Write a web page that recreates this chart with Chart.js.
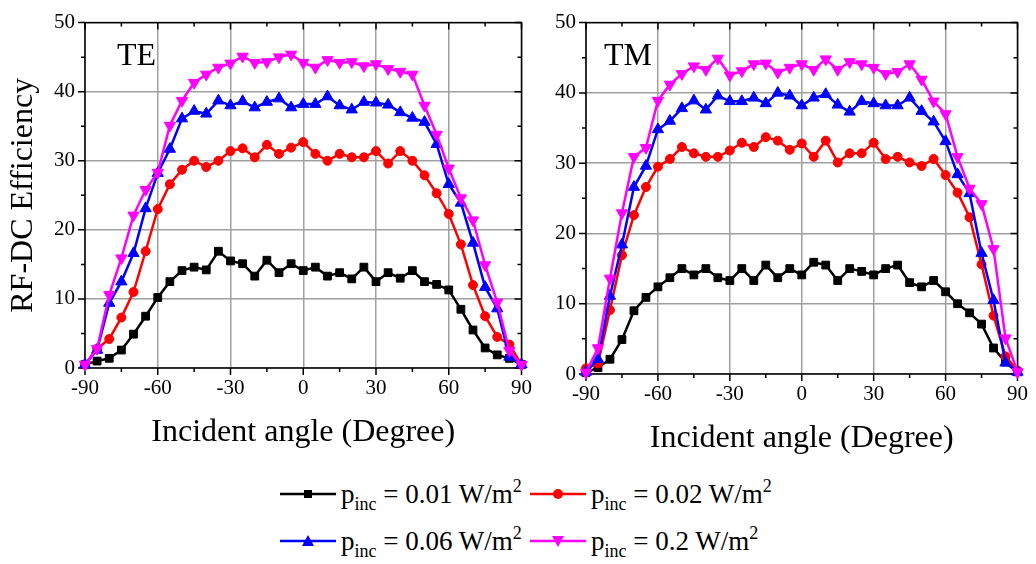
<!DOCTYPE html>
<html>
<head>
<meta charset="utf-8">
<script src="https://cdn.jsdelivr.net/npm/chart.js@4.4.1/dist/chart.umd.min.js"></script>
<style>
  body { margin: 0; background: #fff; }
  #wrap { position: relative; width: 1036px; height: 564px; overflow: hidden;
    font-family: "Liberation Serif", "Times New Roman", serif; }
  canvas { position: absolute; top: 0; }
  #te { left: 0; }
  #tm { left: 540px; }
  .item { position: absolute; height: 32px; font-size: 27px; line-height: 27px;
    white-space: nowrap; color: #000; }
  .item svg { position: absolute; left: 0; top: 3px; }
  .item .txt { position: absolute; left: 61px; top: 0; }
  .sub { font-size: 18px; position: relative; top: 7px; }
  .sup { font-size: 18px; position: relative; top: -11px; }
</style>
</head>
<body>
<div id="wrap">
  <canvas id="te" width="540" height="460"></canvas>
  <canvas id="tm" width="496" height="466"></canvas>
  <div id="legend"></div>
</div>
<script>
const angles = [-90, -85, -80, -75, -70, -65, -60, -55, -50, -45, -40, -35, -30,
  -25, -20, -15, -10, -5, 0, 5, 10, 15, 20, 25, 30, 35, 40, 45, 50, 55, 60, 65,
  70, 75, 80, 85, 90];

// TE polarisation
const te001 = [0.5, 1.0, 1.4, 2.6, 4.9, 7.5, 10.2, 12.5, 14.1, 14.6, 14.2, 16.9,
  15.5, 15.1, 13.3, 15.6, 13.8, 15.1, 14.1, 14.6, 13.3, 13.8, 12.9, 14.6, 12.5,
  13.8, 13.0, 14.1, 12.5, 12.1, 11.3, 8.5, 5.5, 2.9, 1.9, 1.4, 0.5];
const te002 = [0.5, 2.8, 4.2, 7.3, 11.0, 16.9, 23.0, 26.6, 28.7, 30.0, 29.1, 30.0,
  31.4, 31.8, 30.5, 32.3, 31.0, 31.9, 32.7, 31.0, 30.0, 31.0, 30.5, 30.5, 31.4,
  29.6, 31.4, 30.0, 27.9, 25.3, 22.3, 17.9, 12.0, 7.5, 4.5, 3.4, 0.5];
const te006 = [0.5, 2.6, 9.4, 12.5, 16.6, 23.1, 28.2, 31.7, 36.1, 37.2, 36.8, 38.7,
  38.0, 38.6, 37.7, 38.5, 39.0, 37.7, 38.2, 38.2, 39.3, 38.0, 37.4, 38.5, 38.4,
  38.1, 37.0, 36.2, 35.6, 32.4, 26.6, 23.9, 18.1, 11.7, 8.6, 1.6, 0.5];
const te02 = [0.5, 2.8, 10.6, 15.9, 22.1, 25.8, 28.3, 35.1, 38.7, 41.3, 42.5, 43.5,
  44.1, 45.1, 44.2, 44.3, 45.0, 45.4, 44.2, 43.5, 44.6, 44.2, 44.3, 43.7, 44.0,
  43.3, 42.9, 42.5, 38.0, 33.8, 28.9, 24.6, 21.4, 14.9, 9.5, 2.5, 0.5];

// TM polarisation
const tm001 = [0.2, 0.9, 2.1, 4.9, 9.0, 10.9, 12.4, 13.7, 15.0, 14.1, 15.0, 13.7,
  13.3, 15.0, 13.3, 15.5, 13.7, 15.0, 14.1, 15.9, 15.5, 13.3, 15.0, 14.6, 14.1,
  15.0, 15.5, 13.0, 12.4, 13.3, 11.7, 10.0, 8.7, 7.1, 3.7, 1.7, 0.3];
const tm002 = [0.8, 1.5, 9.1, 16.9, 22.6, 26.6, 29.5, 30.6, 32.3, 31.4, 30.9, 30.9,
  31.8, 32.9, 32.3, 33.7, 33.2, 31.9, 32.8, 30.9, 33.2, 30.1, 31.4, 31.4, 32.9,
  30.6, 30.9, 30.1, 29.6, 30.6, 28.3, 25.8, 22.3, 15.6, 8.3, 2.5, 0.5];
const tm006 = [0.3, 2.1, 11.1, 18.4, 26.6, 29.6, 34.8, 36.0, 37.8, 38.9, 37.6, 39.6,
  38.8, 38.8, 39.3, 38.5, 40.0, 39.6, 38.2, 39.3, 39.8, 38.3, 37.3, 38.8, 38.5,
  38.2, 38.2, 39.3, 37.4, 35.9, 33.1, 28.4, 25.7, 17.2, 10.5, 1.6, 0.3];
const tm02 = [0.2, 3.7, 13.6, 22.9, 30.9, 32.2, 38.9, 41.2, 42.7, 43.8, 43.3, 44.9,
  42.5, 43.1, 44.1, 44.2, 42.9, 43.6, 44.1, 43.3, 44.8, 43.3, 44.4, 44.1, 43.6,
  42.7, 43.0, 44.1, 41.9, 38.8, 37.0, 30.9, 26.4, 24.2, 17.8, 5.1, 0.3];

const xTicks = [-90, -60, -30, 0, 30, 60, 90];
const yTicks = [0, 10, 20, 30, 40, 50];
const legendPowers = ["0.01", "0.02", "0.06", "0.2"];

const serif = '"Liberation Serif", "Times New Roman", serif';
const styles = [
  { color: "#000000", point: "rect", radius: 5.5, rotation: 0 },
  { color: "#ff0000", point: "circle", radius: 4.5, rotation: 0 },
  { color: "#0000ff", point: "triangle", radius: 6.5, rotation: 0 },
  { color: "#ff00ff", point: "triangle", radius: 6.5, rotation: 180 },
];

// box, ticks and the TE / TM tag
const frame = {
  id: "frame",
  beforeDatasetsDraw(chart, args, opts) {
    const { ctx, chartArea: a, scales: { x, y } } = chart;
    ctx.save();
    ctx.strokeStyle = "#000";
    ctx.lineWidth = 1.5;
    ctx.strokeRect(a.left, a.top, a.right - a.left, a.bottom - a.top);
    ctx.beginPath();
    for (let v = -90; v <= 90; v += 15) {
      const px = x.getPixelForValue(v);
      const len = v % 30 === 0 ? 7 : 4;
      ctx.moveTo(px, a.bottom);
      ctx.lineTo(px, a.bottom + len);
      ctx.moveTo(px, a.top);
      ctx.lineTo(px, a.top + len);
    }
    for (let v = 0; v <= 50; v += 5) {
      const py = y.getPixelForValue(v);
      const len = v % 10 === 0 ? 7 : 4;
      ctx.moveTo(a.left, py);
      ctx.lineTo(a.left - len, py);
      ctx.moveTo(a.right, py);
      ctx.lineTo(a.right - len, py);
    }
    ctx.stroke();
    ctx.fillStyle = "#000";
    ctx.font = "32px " + serif;
    ctx.textBaseline = "alphabetic";
    ctx.fillText(opts.text, a.left + opts.dx, a.top + 42);
    ctx.restore();
  },
};

function makeChart(id, series, tag, tagDx, yWidth, padRight, yTitle) {
  const datasets = series.map((s, i) => ({
    data: angles.map((a, j) => ({ x: a, y: s[j] })),
    borderColor: styles[i].color,
    backgroundColor: styles[i].color,
    borderWidth: 2.5,
    pointStyle: styles[i].point,
    pointRadius: styles[i].radius,
    pointRotation: styles[i].rotation,
    pointBorderWidth: 1,
    tension: 0,
    clip: false,
    order: 4 - i,
  }));
  return new Chart(document.getElementById(id), {
    type: "line",
    data: { datasets },
    options: {
      responsive: false,
      animation: false,
      layout: { padding: { top: 15, right: padRight, left: 0, bottom: 0 } },
      plugins: {
        legend: { display: false },
        tooltip: { enabled: false },
        frame: { text: tag, dx: tagDx },
      },
      scales: {
        x: {
          type: "linear",
          min: -90,
          max: 90,
          afterBuildTicks: (s) => { s.ticks = xTicks.map((v) => ({ value: v })); },
          afterFit: (s) => { s.height = 92; },
          grid: { color: "#a0a0a0", lineWidth: 1.5, drawTicks: false },
          border: { display: false },
          ticks: { color: "#000", padding: 8, maxRotation: 0, font: { family: serif, size: 21 } },
          title: {
            display: true,
            text: "Incident angle (Degree)",
            color: "#000",
            font: { family: serif, size: 32, lineHeight: 1.2 },
            padding: { top: 0, bottom: 8 },
          },
        },
        y: {
          min: 0,
          max: 50,
          afterBuildTicks: (s) => { s.ticks = yTicks.map((v) => ({ value: v })); },
          afterFit: (s) => { s.width = yWidth; },
          grid: { color: "#a0a0a0", lineWidth: 1.5, drawTicks: false },
          border: { display: false },
          ticks: { color: "#000", padding: 10, font: { family: serif, size: 21 } },
          title: {
            display: yTitle,
            text: "RF-DC Efficiency",
            color: "#000",
            font: { family: serif, size: 32, lineHeight: 1.2 },
            padding: { top: 4, bottom: 0 },
          },
        },
      },
    },
    plugins: [frame],
  });
}

makeChart("te", [te001, te002, te006, te02], "TE", 32, 85, 15, true);
makeChart("tm", [tm001, tm002, tm006, tm02], "TM", 18, 46, 11, false);

// legend, 2 x 2
const markerSvg = [
  '<rect x="24" y="6" width="8" height="8" fill="#000"/>',
  '<circle cx="28" cy="10" r="5" fill="#ff0000"/>',
  '<polygon points="28,4 22,15 34,15" fill="#0000ff"/>',
  '<polygon points="28,16 22,5 34,5" fill="#ff00ff"/>',
];
const legendPos = [[280, 481], [530, 481], [280, 528], [530, 528]];
const legend = document.getElementById("legend");
legendPowers.forEach((p, i) => {
  const c = styles[i].color;
  const div = document.createElement("div");
  div.className = "item";
  div.style.left = legendPos[i][0] + "px";
  div.style.top = legendPos[i][1] + "px";
  div.innerHTML =
    '<svg width="56" height="20"><line x1="0" y1="10" x2="56" y2="10" stroke="' + c +
    '" stroke-width="2.5"/>' + markerSvg[i] + "</svg>" +
    '<span class="txt">p<span class="sub">inc</span> = ' + p +
    ' W/m<span class="sup">2</span></span>';
  legend.appendChild(div);
});
</script>
</body>
</html>
